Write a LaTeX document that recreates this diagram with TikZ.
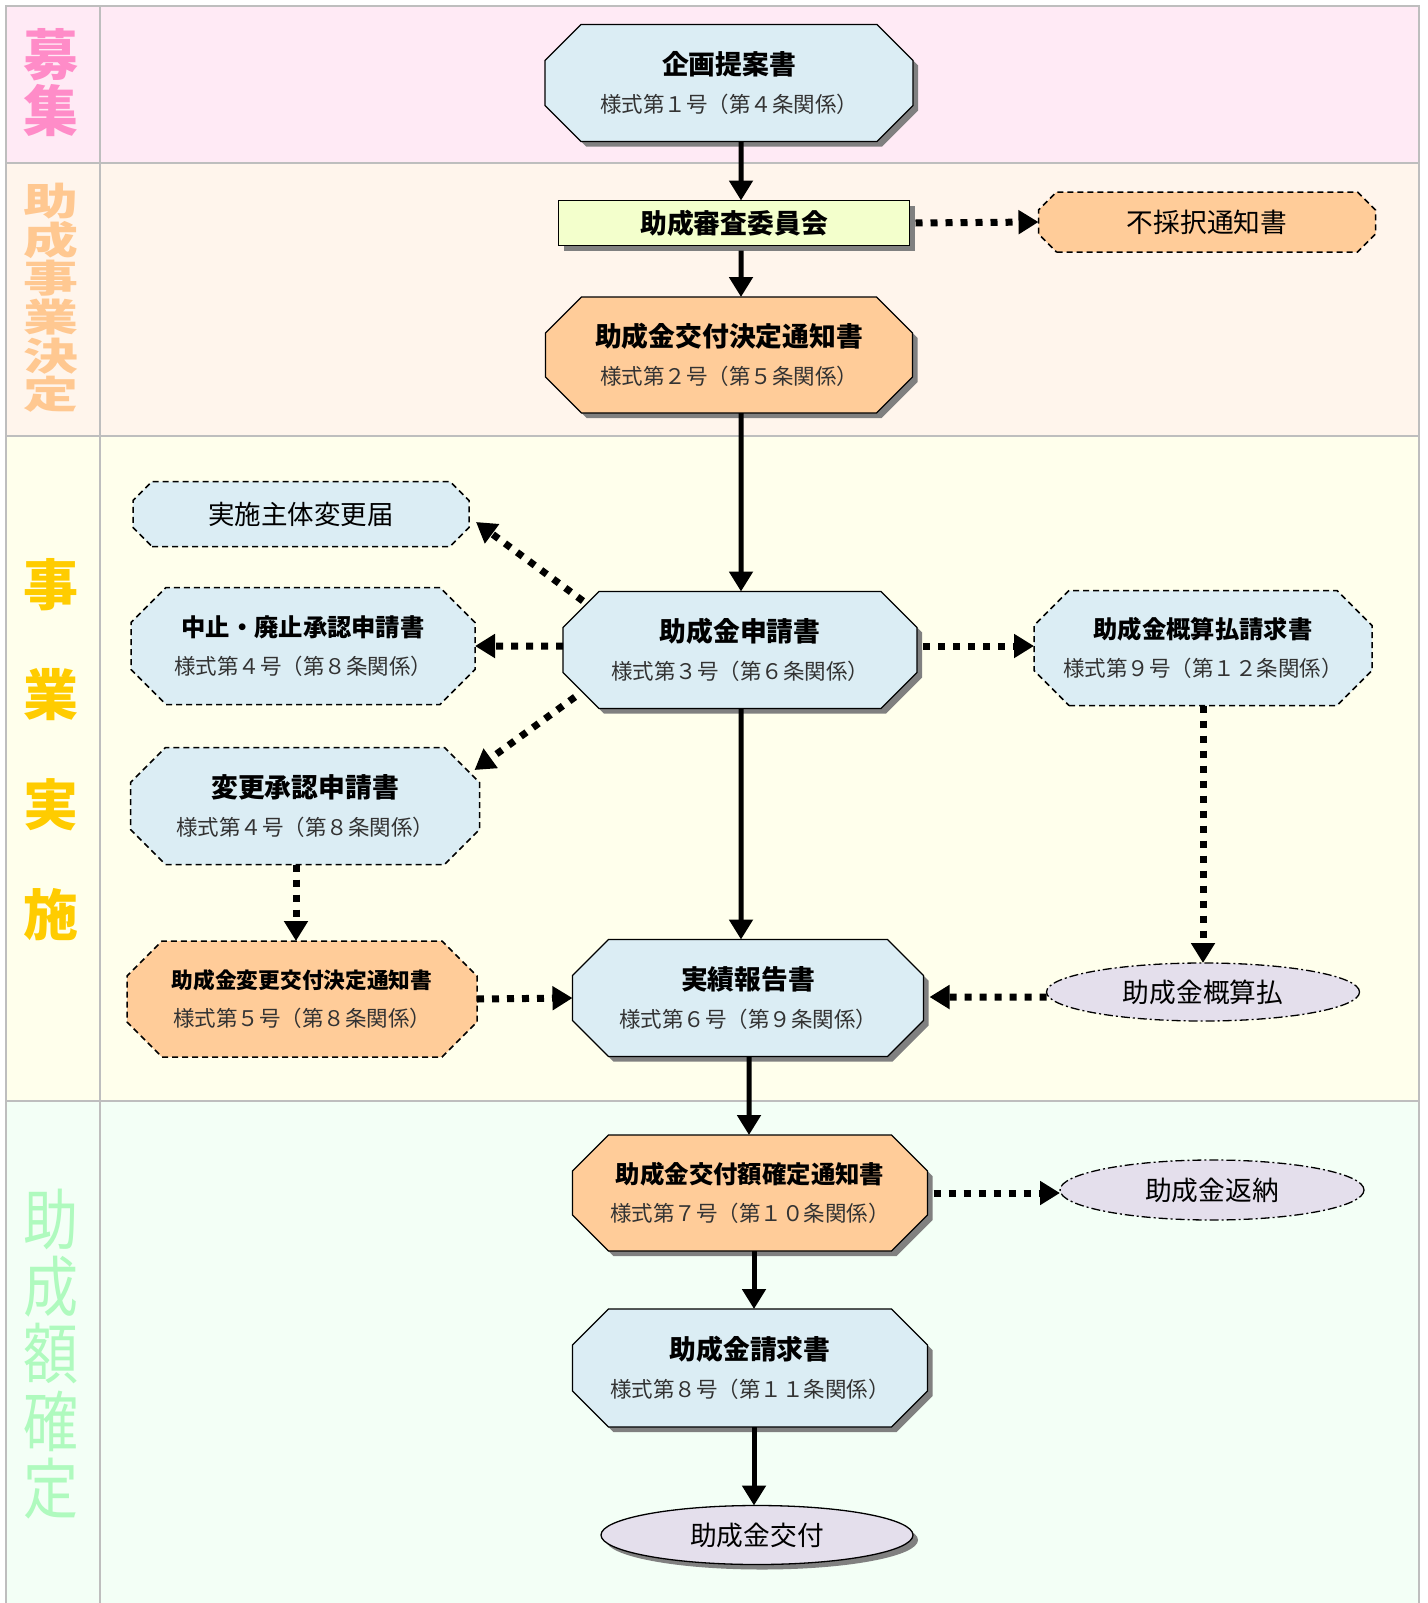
\documentclass[tikz,border=0pt]{standalone}
\usepackage{fontspec}
\setmainfont{Noto Sans CJK JP}
\usetikzlibrary{arrows.meta,shapes.geometric,shadows}

\definecolor{docblue}{RGB}{219,237,244}
\definecolor{docorange}{RGB}{255,204,153}
\definecolor{meetyellow}{RGB}{243,255,204}
\definecolor{paylilac}{RGB}{228,223,236}
\definecolor{bandpink}{RGB}{255,234,245}
\definecolor{bandpeach}{RGB}{255,245,236}
\definecolor{bandcream}{RGB}{255,255,236}
\definecolor{bandmint}{RGB}{243,255,246}
\definecolor{gridgray}{RGB}{190,190,190}
\definecolor{lblpink}{RGB}{255,140,200}
\definecolor{lblpeach}{RGB}{255,200,145}
\definecolor{lblgold}{RGB}{255,204,0}
\definecolor{lblmint}{RGB}{175,250,190}

% octagon = rectangle with cut corners
\makeatletter
\newdimen\octl \newdimen\octr \newdimen\octb \newdimen\octt \newdimen\octc
\pgfkeys{/pgf/octagon cut/.initial=36bp}
\pgfdeclareshape{octagon box}{
  \inheritsavedanchors[from=rectangle]
  \inheritanchorborder[from=rectangle]
  \inheritanchor[from=rectangle]{center}
  \inheritanchor[from=rectangle]{north}
  \inheritanchor[from=rectangle]{south}
  \inheritanchor[from=rectangle]{east}
  \inheritanchor[from=rectangle]{west}
  \inheritanchor[from=rectangle]{north east}
  \inheritanchor[from=rectangle]{north west}
  \inheritanchor[from=rectangle]{south east}
  \inheritanchor[from=rectangle]{south west}
  \backgroundpath{%
    \pgfmathsetlength\octc{\pgfkeysvalueof{/pgf/octagon cut}}%
    \southwest \octl=\pgf@x \octb=\pgf@y
    \northeast \octr=\pgf@x \octt=\pgf@y
    \pgfpathmoveto{\pgfqpoint{\dimexpr\octl+\octc\relax}{\octb}}%
    \pgfpathlineto{\pgfqpoint{\dimexpr\octr-\octc\relax}{\octb}}%
    \pgfpathlineto{\pgfqpoint{\octr}{\dimexpr\octb+\octc\relax}}%
    \pgfpathlineto{\pgfqpoint{\octr}{\dimexpr\octt-\octc\relax}}%
    \pgfpathlineto{\pgfqpoint{\dimexpr\octr-\octc\relax}{\octt}}%
    \pgfpathlineto{\pgfqpoint{\dimexpr\octl+\octc\relax}{\octt}}%
    \pgfpathlineto{\pgfqpoint{\octl}{\dimexpr\octt-\octc\relax}}%
    \pgfpathlineto{\pgfqpoint{\octl}{\dimexpr\octb+\octc\relax}}%
    \pgfpathclose
  }
}
\makeatother

\newcommand{\formdoc}[3][26.8]{{\bfseries\fontsize{#1bp}{#1bp}\selectfont #2}\\{\color{black!80}#3}}

\tikzset{
  flow/.style={->, line width=5bp},
  dotflow/.style={->, line width=7bp, dash pattern=on 7bp off 8bp},
  cut/.style={/pgf/octagon cut=#1},
  formbase/.style={octagon box, cut=36bp, draw, line width=1.3bp, fill=docblue, align=center,
    inner sep=0pt, outer sep=0pt, minimum width=352bp, minimum height=117bp,
    font=\fontsize{21.5bp}{38bp}\selectfont},
  boxshadow/.style={drop shadow={shadow xshift=5bp, shadow yshift=-5bp, fill=black!50, opacity=1}},
  docbox/.style={formbase, boxshadow},
  notebox/.style={formbase, line width=1.5bp, dash pattern=on 6bp off 4bp},
  payoval/.style={ellipse, draw, fill=paylilac, line width=1.3bp, inner sep=0pt, outer sep=0pt,
    dash pattern=on 9bp off 3bp on 2bp off 3bp, font=\fontsize{26.7bp}{26.7bp}\selectfont},
  bandlbl/.style={align=center, inner sep=0pt, font=\bfseries\fontsize{55bp}{56bp}\selectfont},
}

\begin{document}
\begin{tikzpicture}[>={Triangle[length=20bp,width=23bp]}]
  \useasboundingbox (0bp,0bp) rectangle (1428bp,-1603bp);

  % Bands
  \fill[bandpink]  (6bp,-6bp) rectangle (1419bp,-163bp);
  \fill[bandpeach] (6bp,-163bp) rectangle (1419bp,-436bp);
  \fill[bandcream] (6bp,-436bp) rectangle (1419bp,-1101bp);
  \fill[bandmint]  (6bp,-1101bp) rectangle (1419bp,-1610bp);
  \draw[gridgray, line width=2bp] (6bp,-1610bp) -- (6bp,-6bp) -- (1419bp,-6bp) -- (1419bp,-1610bp);
  \draw[gridgray, line width=2bp] (100bp,-6bp) -- (100bp,-1610bp);
  \draw[gridgray, line width=2bp] (6bp,-163bp) -- (1419bp,-163bp);
  \draw[gridgray, line width=2bp] (6bp,-436bp) -- (1419bp,-436bp);
  \draw[gridgray, line width=2bp] (6bp,-1101bp) -- (1419bp,-1101bp);

  % Band labels
  \node (boshu) at (51bp,-83bp) [bandlbl, text=lblpink] {募\\集};
  \node (kettei) at (51bp,-298bp) [bandlbl, text=lblpeach, yscale=0.69, transform shape] {助\\成\\事\\業\\決\\定};
  \node (jisshi) at (51bp,-750bp) [bandlbl, text=lblgold, font=\bfseries\fontsize{55bp}{110bp}\selectfont] {事\\業\\実\\施};
  \node (kakutei) at (51bp,-1354bp) [bandlbl, text=lblmint, font=\fontsize{55bp}{56bp}\selectfont, yscale=1.2, transform shape] {助\\成\\額\\確\\定};

  % Documents
  \node (kikakusho) at (729bp,-83bp) [docbox, minimum width=368bp] {\formdoc{企画提案書}{様式第１号（第４条関係）}};
  \node (shinsakai) at (734bp,-223bp) [rectangle, draw, line width=1.3bp, fill=meetyellow, boxshadow,
    minimum width=351bp, minimum height=45bp, inner sep=0pt, outer sep=0pt, font=\bfseries\fontsize{26.8bp}{26.8bp}\selectfont] {助成審査委員会};
  \node (fusaitaku) at (1207bp,-222bp) [notebox, fill=docorange, cut=18bp,
    minimum width=337bp, minimum height=60bp, font=\fontsize{26.7bp}{26.7bp}\selectfont] {不採択通知書};
  \node (koufukettei) at (729bp,-355bp) [docbox, fill=docorange, minimum width=367bp, minimum height=116bp] {\formdoc{助成金交付決定通知書}{様式第２号（第５条関係）}};

  \node (todoke) at (301bp,-514bp) [notebox, cut=19bp,
    minimum width=336bp, minimum height=65bp, font=\fontsize{26.5bp}{26.5bp}\selectfont] {実施主体変更届};
  \node (chushi) at (303bp,-646bp) [notebox, cut=35bp, minimum width=344bp] {\formdoc[24.3]{中止・廃止承認申請書}{様式第４号（第８条関係）}};
  \node (henkou) at (305bp,-806bp) [notebox, cut=35bp, minimum width=349bp] {\formdoc{変更承認申請書}{様式第４号（第８条関係）}};
  \node (shinsei) at (740bp,-650bp) [docbox, minimum width=354bp] {\formdoc{助成金申請書}{様式第３号（第６条関係）}};
  \node (gaisanseikyu) at (1203bp,-648bp) [notebox, cut=35bp, minimum width=338bp, minimum height=115bp] {\formdoc[24.3]{助成金概算払請求書}{様式第９号（第１２条関係）}};
  \node (henkoukettei) at (302bp,-999bp) [notebox, cut=35bp, fill=docorange, minimum width=350bp, minimum height=116bp] {\formdoc[21.7]{助成金変更交付決定通知書}{様式第５号（第８条関係）}};
  \node (jisseki) at (748bp,-998bp) [docbox, minimum width=351bp] {\formdoc{実績報告書}{様式第６号（第９条関係）}};
  \node (gaisan) at (1203bp,-992bp) [payoval, minimum width=313bp, minimum height=58bp] {助成金概算払};

  \node (kakuteisho) at (750bp,-1193bp) [docbox, fill=docorange, minimum width=355bp, minimum height=116bp] {\formdoc[24.4]{助成金交付額確定通知書}{様式第７号（第１０条関係）}};
  \node (hennou) at (1212bp,-1190bp) [payoval, minimum width=304bp, minimum height=60bp] {助成金返納};
  \node (seikyusho) at (750bp,-1368bp) [docbox, minimum width=355bp, minimum height=118bp] {\formdoc{助成金請求書}{様式第８号（第１１条関係）}};
  \node (koufu) at (757bp,-1535bp) [payoval, solid, boxshadow, minimum width=312bp, minimum height=59bp] {助成金交付};

  % Main flow
  \draw[flow] ([xshift=12bp]kikakusho.south) -- ([xshift=7bp]shinsakai.north);
  \draw[flow] ([xshift=7bp,yshift=-5bp]shinsakai.south) -- ([xshift=12bp]koufukettei.north);
  \draw[flow] ([xshift=12bp]koufukettei.south) -- ([xshift=1bp]shinsei.north);
  \draw[flow] ([xshift=1bp]shinsei.south) -- ([xshift=-7bp]jisseki.north);
  \draw[flow] ([xshift=1bp]jisseki.south) -- ([xshift=-1bp]kakuteisho.north);
  \draw[flow] ([xshift=4bp]kakuteisho.south) -- ([xshift=4bp]seikyusho.north);
  \draw[flow] ([xshift=4bp]seikyusho.south) -- ([xshift=-3bp]koufu.north);

  % Side flows
  \draw[dotflow] ([xshift=6bp]shinsakai.east) -- (fusaitaku.west);
  \draw[dotflow] ([shift={(-157bp,49bp)}]shinsei.center) -- ([shift={(7bp,-8bp)}]todoke.east);
  \draw[dotflow] ([yshift=4bp]shinsei.west) -- (chushi.east);
  \draw[dotflow] ([shift={(-165bp,-47bp)}]shinsei.center) -- ([shift={(-5bp,36bp)}]henkou.east);
  \draw[dotflow] ([xshift=6bp,yshift=4bp]shinsei.east) -- ([yshift=2bp]gaisanseikyu.west);
  \draw[dotflow] (gaisanseikyu.south) -- (gaisan.north);
  \draw[dotflow] ([yshift=-5bp]gaisan.west) -- ([xshift=6bp,yshift=1bp]jisseki.east);
  \draw[dotflow] ([xshift=-9bp]henkou.south) -- ([xshift=-6bp]henkoukettei.north);
  \draw[dotflow] (henkoukettei.east) -- (jisseki.west);
  \draw[dotflow] ([xshift=6bp]kakuteisho.east) -- ([yshift=-3bp]hennou.west);
\end{tikzpicture}
\end{document}
